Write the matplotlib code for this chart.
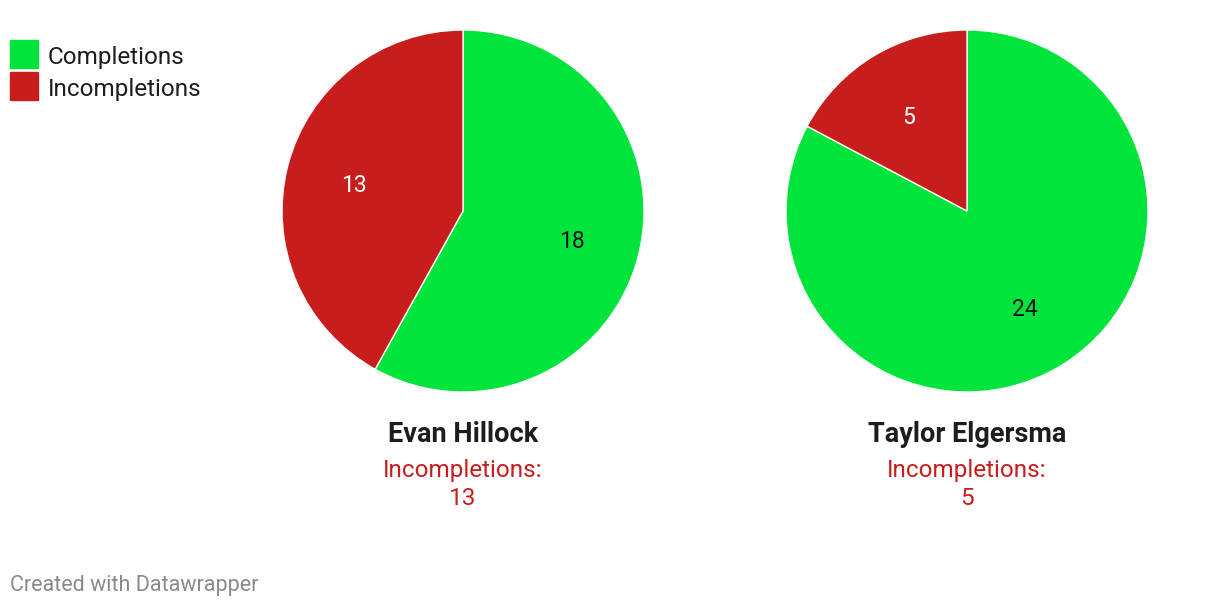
import matplotlib.pyplot as plt
from matplotlib.patches import Rectangle

plt.rcParams['font.family'] = ['Roboto', 'DejaVu Sans']

players = ['Evan Hillock', 'Taylor Elgersma']
categories = ['Completions', 'Incompletions']
completions = [18, 24]
incompletions = [13, 5]

green = '#00e43c'
red = '#c71e1d'

W, H = 1220, 606
fig = plt.figure(figsize=(W / 100, H / 100), dpi=100)

def fx(px):
    return px / W

def fy(py):
    return 1 - py / H

centers = [463, 967]
radius = 181
cy = 211

for i, name in enumerate(players):
    cx = centers[i]
    ax = fig.add_axes([fx(cx - radius), fy(cy + radius), 2 * radius / W, 2 * radius / H])
    vals = [completions[i], incompletions[i]]
    wedges, texts = ax.pie(vals, colors=[green, red], startangle=90, counterclock=False,
                           labels=[str(v) for v in vals], labeldistance=0.62,
                           wedgeprops=dict(edgecolor='white', linewidth=1))
    for t, c in zip(texts, ['#111111', 'white']):
        t.set_ha('center')
        t.set_va('center_baseline')
        t.set_color(c)
        t.set_fontsize(16.5)
    ax.set_xlim(-1, 1)
    ax.set_ylim(-1, 1)
    ax.set_aspect('auto')
    ax.axis('off')

    fig.text(fx(cx), fy(432), name, ha='center', va='center_baseline', fontsize=19.5,
             fontweight='bold', color='#1d1d1d')
    fig.text(fx(cx), fy(468), 'Incompletions:', ha='center', va='center_baseline',
             fontsize=17.5, color=red)
    fig.text(fx(cx), fy(496), str(incompletions[i]), ha='center', va='center_baseline',
             fontsize=17.5, color=red)

# legend
for j, (lab, col) in enumerate(zip(categories, [green, red])):
    top = 40 + j * 32
    fig.patches.append(Rectangle((fx(10), fy(top + 28)), 28 / W, 28 / H, color=col,
                                 transform=fig.transFigure, figure=fig))
    fig.text(fx(48), fy(top + 15), lab, ha='left', va='center_baseline', fontsize=17.5,
             color='#1d1d1d')

fig.text(fx(10), fy(583), 'Created with Datawrapper', ha='left', va='center_baseline',
         fontsize=15.5, color='#8a8a8a')

fig.savefig('out.png', dpi=100, facecolor='white')
